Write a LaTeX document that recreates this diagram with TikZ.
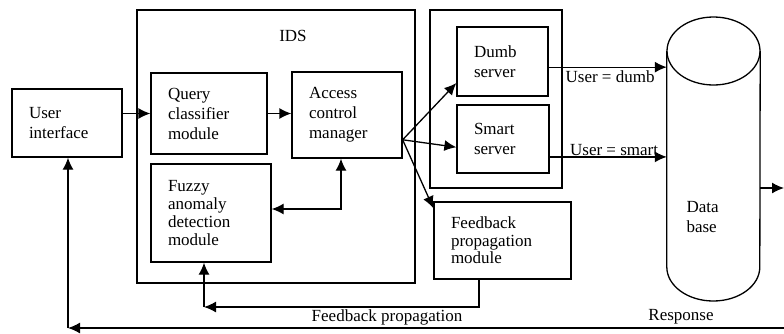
\documentclass[tikz,border=0pt]{standalone}
\usepackage{fontspec}
\setmainfont{Liberation Serif}
\usetikzlibrary{arrows.meta}

\tikzset{
  every node/.style={font=\fontsize{17}{20}\selectfont},
  box/.style={draw, line width=1.3pt, align=left, inner xsep=17pt, inner ysep=2pt},
  frame/.style={draw, line width=1.3pt, inner sep=0pt},
  arr/.style={-{Latex[length=12pt,width=11pt]}, line width=1.3pt},
  both/.style={{Latex[length=12pt,width=11pt]}-{Latex[length=12pt,width=11pt]}, line width=1.3pt},
}

\begin{document}
\begin{tikzpicture}[x=1pt,y=-1pt]
  \useasboundingbox (0,0) rectangle (784,333);

  % frames
  \node[frame, minimum width=278pt, minimum height=273pt] (ids) at (276,146.5) {};
  \node at (293,36) (idslabel) {IDS};
  \node[frame, minimum width=132pt, minimum height=178pt] (srv) at (496,99) {};

  \node[box, text width=76pt, minimum height=68pt] (ui) at (67,123) {User\\interface};
  \node[box, text width=82pt, minimum height=81pt] (qc) at (209,113.5) {Query\\classifier\\module};
  \node[box, text width=76pt, minimum height=86pt] (acm) at (347,115) {Access\\control\\manager};
  \node[box, text width=86pt, minimum height=98pt, font=\fontsize{17}{18}\selectfont] (fuzzy) at (211,213) {Fuzzy\\anomaly\\detection\\module};
  \node[box, text width=57pt, minimum height=69pt] (dumb) at (502.5,61.5) {Dumb\\server};
  \node[box, text width=58pt, minimum height=68pt] (smart) at (503,139) {Smart\\server};
  \node[box, text width=103pt, minimum height=77pt, font=\fontsize{17}{17.5}\selectfont] (fb) at (502.5,240.5) {Feedback\\propagation\\module};

  % data base
  \node[inner sep=0pt, minimum width=93pt, minimum height=284pt] (db) at (713.5,159) {};
  \draw[line width=1.3pt] (713.5,51) ellipse [x radius=46.5, y radius=34];
  \draw[line width=1.3pt] (db.west |- 0,51) -- (db.west |- 0,267)
    arc [start angle=180, end angle=360, x radius=46.5, y radius=-34] -- (db.east |- 0,51);
  \node[anchor=west, align=left] (dbtext) at (683,217) {Data\\base};

  \coordinate (dbout) at (784,188);
  \coordinate (c1) at (204,307);
  \coordinate (c2) at (341,209);
  \coordinate (c3) at (68,328);
  \coordinate (resp) at (784,328);

  \draw[arr] (ui.east |- qc.west) -- (qc.west);
  \draw[arr] (qc.east) -- (acm.west |- qc.east);
  \draw[both] (fuzzy.east |- c2) -| (acm.south -| c2);
  \draw[arr] (acm.-24) -- (dumb.205);
  \draw[arr] (acm.-24) -- (smart.190);
  \draw[arr] (acm.-24) -- (fb.155);
  \draw[arr] (dumb.-7) -- (db.west |- dumb.-7)
    node[pos=0.52, below] (ldumb) {User = dumb};
  \draw[arr] (smart.-21) -- (db.west |- smart.-21)
    node[pos=0.55, above, inner sep=1pt] (lsmart) {User = smart};
  \draw[arr] (db.east |- dbout) -- (dbout);

  \draw[arr] (fb.south -| 479,0) |- (c1);
  \draw[arr] (c1) -- (fuzzy.south -| c1);
  \draw[arr] (resp) -- (c3);
  \draw[arr] (c3) -- (ui.south -| c3);
  \node at (387,317) (lfb) {Feedback propagation};
  \node at (681,317) (lresp) {Response};
\end{tikzpicture}
\end{document}
